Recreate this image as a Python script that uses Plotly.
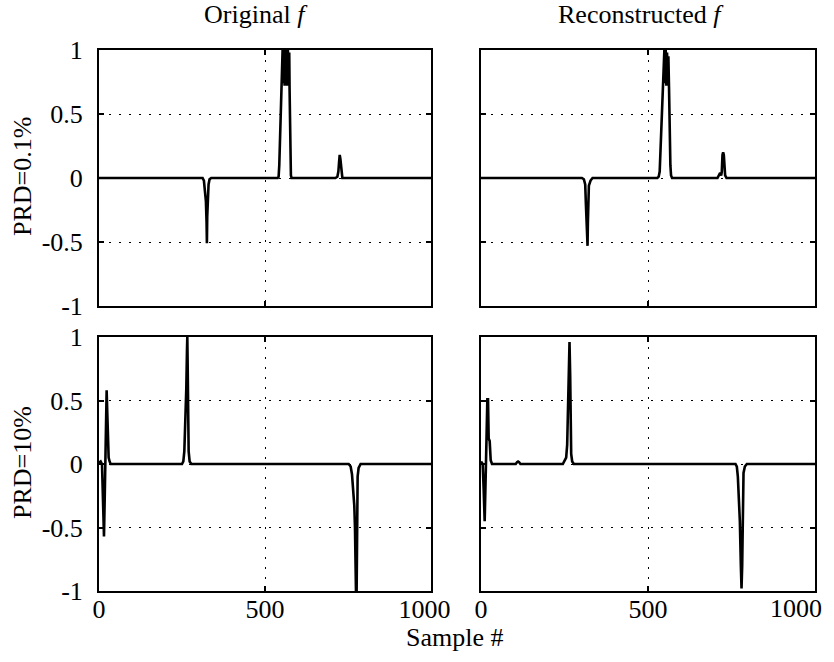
import plotly.graph_objects as go

# Sample axis ticks and amplitude ticks
x_ticks = [0, 500, 1000]
x_ticklabels = ["0", "500", "1000"]
y_ticks = [-1, -0.5, 0, 0.5, 1]
y_ticklabels = ["-1", "-0.5", "0", "0.5", "1"]

col_titles = ["Original <i>f</i>", "Reconstructed <i>f</i>"]
row_titles = ["PRD=0.1%", "PRD=10%"]
x_title = "Sample #"

# PRD = 0.1 %, original signal (sample index, amplitude)
orig_lo_x = [0, 312, 316, 318, 320, 322, 324, 325, 326, 328, 330, 333, 338,
             538, 541, 543, 545, 548, 551, 553, 555, 557, 559, 561, 563, 565,
             567, 569, 571, 573, 574, 576, 578, 580,
             712, 718, 721, 723, 725, 727, 729, 731, 733, 1000]
orig_lo_y = [0, 0, -0.02, -0.08, -0.13, -0.18, -0.35, -0.51, -0.3, -0.15, -0.05, -0.01, 0,
             0, 0.01, 0.1, 0.3, 0.6, 0.9, 1.0, 0.74, 1.0, 0.72, 1.0, 0.74, 1.0,
             0.72, 1.0, 0.75, 0.98, 0.7, 0.3, 0.02, 0,
             0, 0.01, 0.05, 0.12, 0.18, 0.15, 0.1, 0.04, 0, 0]

# PRD = 0.1 %, reconstructed signal
rec_lo_x = [0, 302, 308, 312, 314, 316, 318, 319, 320, 321, 323, 328, 334,
            528, 532, 535, 537, 540, 543, 546, 549, 551, 553, 555, 557, 559,
            561, 563, 564, 565, 567, 569, 572,
            708, 712, 716, 719, 721, 723, 725, 727, 729, 731, 735, 1000]
rec_lo_y = [0, 0, -0.01, -0.05, -0.2, -0.35, -0.4, -0.53, -0.35, -0.2, -0.06, -0.02, 0,
            0, 0.01, 0.05, 0.2, 0.4, 0.65, 0.85, 1.0, 0.74, 1.0, 0.72, 0.98, 0.75,
            0.95, 0.7, 0.45, 0.15, 0.1, 0.02, 0,
            0, 0.02, 0.04, 0.02, 0.05, 0.18, 0.2, 0.18, 0.05, 0.02, 0, 0]

# PRD = 10 %, original signal
orig_hi_x = [0, 5, 9, 11, 13, 15, 17, 19, 21, 23, 25, 27, 29, 32, 35,
             250, 254, 257, 260, 263, 265, 266, 267, 268, 270, 273, 278,
             752, 758, 762, 766, 769, 771, 773, 774, 776, 778, 779, 782, 788, 1000]
orig_hi_y = [0.01, 0.02, 0, -0.2, -0.45, -0.57, -0.3, 0.1, 0.45, 0.58, 0.4, 0.15, 0.05, 0.02, 0,
             0, 0.02, 0.1, 0.3, 0.6, 0.9, 1.0, 0.8, 0.45, 0.1, 0.02, 0,
             0, -0.02, -0.08, -0.2, -0.33, -0.5, -0.9, -1.0, -1.0, -0.5, -0.1, -0.03, 0, 0]

# PRD = 10 %, reconstructed signal
rec_hi_x = [0, 5, 8, 11, 14, 17, 19, 21, 23, 26, 29, 33,
            104, 108, 111, 114, 118,
            245, 250, 255, 258, 261, 263, 265, 267, 268, 270, 273, 278,
            762, 766, 769, 772, 775, 778, 780, 782, 784, 786, 790, 796, 1000]
rec_hi_y = [0.02, 0, -0.2, -0.45, -0.1, 0.3, 0.51, 0.51, 0.2, 0.18, 0.03, 0,
            0, 0.015, 0.02, 0.015, 0,
            0, 0.02, 0.05, 0.15, 0.5, 0.75, 0.96, 0.7, 0.3, 0.08, 0.02, 0,
            0, -0.02, -0.1, -0.25, -0.45, -0.8, -0.98, -0.8, -0.3, -0.07, -0.02, 0, 0]

W, H = 834, 662
FONT = "Liberation Serif"

# panel placement in paper coordinates
x_dom = [[99 / W, 431 / W], [481 / W, 815 / W]]
y_dom = [[1 - 306 / H, 1 - 50 / H], [1 - 591 / H, 1 - 337 / H]]

# left column: "1000" nudged slightly left; right column: the last label is
# drawn as a right-aligned annotation so it stays on the page
NBSP = "\u00a0"
x_ticktext_cols = [
    x_ticklabels[:-1] + [x_ticklabels[-1] + NBSP * 2],
    x_ticklabels[:-1] + [""],
]

panels = [
    (orig_lo_x, orig_lo_y, 0, 0),
    (rec_lo_x, rec_lo_y, 0, 1),
    (orig_hi_x, orig_hi_y, 1, 0),
    (rec_hi_x, rec_hi_y, 1, 1),
]

fig = go.Figure()
layout = dict(
    width=W, height=H,
    margin=dict(l=0, r=0, t=0, b=0, autoexpand=False),
    paper_bgcolor="white", plot_bgcolor="white",
    showlegend=False,
    font=dict(family=FONT, size=26, color="black"),
)

for i, (xs, ys, r, c) in enumerate(panels):
    n = "" if i == 0 else str(i + 1)
    fig.add_trace(go.Scatter(
        x=xs, y=ys, mode="lines",
        line=dict(color="black", width=2.6),
        xaxis="x" + n, yaxis="y" + n,
        hoverinfo="skip",
    ))
    common = dict(
        showline=True, mirror="ticks", linecolor="black", linewidth=2,
        ticks="inside", ticklen=5, tickwidth=1.5, tickcolor="black",
        showgrid=True, gridcolor="black", gridwidth=1.3, griddash="1.5px,8.5px",
        zeroline=False, automargin=False, ticklabeloverflow="allow",
        tickfont=dict(family=FONT, size=26, color="black"),
    )
    layout["xaxis" + n] = dict(
        common, domain=x_dom[c], anchor="y" + n, range=[0, 1000],
        tickmode="array", tickvals=x_ticks, ticktext=x_ticktext_cols[c],
        showticklabels=(r == 1), ticklabelstandoff=-6,
    )
    layout["yaxis" + n] = dict(
        common, domain=y_dom[r], anchor="x" + n, range=[-1, 1],
        tickmode="array", tickvals=y_ticks, ticktext=y_ticklabels,
        showticklabels=(c == 0), ticklabelstandoff=9,
    )

annotations = []
for c, (txt, xc) in enumerate(zip(col_titles, [256, 641])):
    annotations.append(dict(
        text=txt, x=xc / W, y=1 - 15 / H, xref="paper", yref="paper",
        xanchor="center", yanchor="middle", showarrow=False,
        font=dict(family=FONT, size=26, color="black"),
    ))
for r, (txt, yc) in enumerate(zip(row_titles, [177, 463])):
    annotations.append(dict(
        text=txt, x=22 / W, y=1 - yc / H, xref="paper", yref="paper",
        xanchor="center", yanchor="middle", textangle=-90, showarrow=False,
        font=dict(family=FONT, size=26, color="black"),
    ))
annotations.append(dict(
    text=x_title, x=455 / W, y=1 - 637 / H, xref="paper", yref="paper",
    xanchor="center", yanchor="middle", showarrow=False,
    font=dict(family=FONT, size=26, color="black"),
))
# last sample-axis label of the bottom-right panel
annotations.append(dict(
    text=x_ticklabels[-1], x=x_ticks[-1], xref="x4", y=1 - 608 / H, yref="paper",
    xanchor="right", yanchor="middle", xshift=9, showarrow=False,
    font=dict(family=FONT, size=26, color="black"),
))
layout["annotations"] = annotations

fig.update_layout(**layout)
fig.write_html("out.html")
